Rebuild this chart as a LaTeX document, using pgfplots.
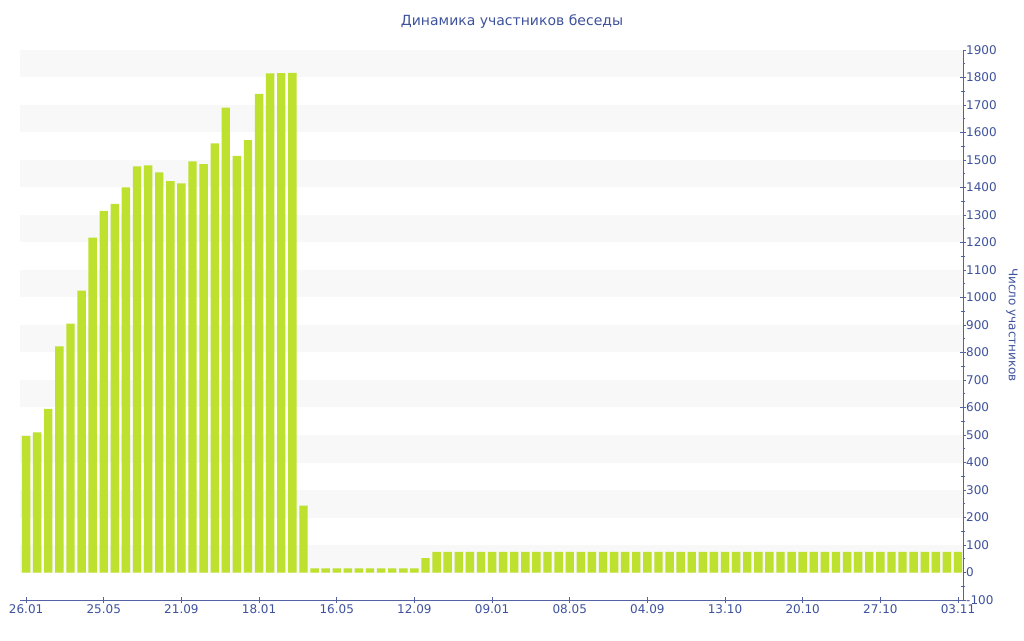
\documentclass[border=0pt]{standalone}
\usepackage{pgfplots}
\pgfplotsset{compat=1.18}
\usepackage{fontspec}
\setmainfont{DejaVu Sans}
\definecolor{barlime}{RGB}{190,224,46}
\definecolor{txtblue}{RGB}{62,82,156}
\definecolor{axblue}{RGB}{82,98,162}
\definecolor{band}{RGB}{248,248,248}
\begin{document}
\begin{tikzpicture}[x=1pt,y=1pt]
\begin{axis}[scale only axis,
  width=943pt, height=550pt,
  xmin=-0.55, xmax=84.45, ymin=-100, ymax=1900,
  axis x line=bottom, axis y line=right,
  axis line style={axblue,-},
  xtick={0,7,...,84},
  xticklabels={26.01,25.05,21.09,18.01,16.05,12.09,09.01,08.05,04.09,13.10,20.10,27.10,03.11},
  ytick={-100,0,...,1900}, minor y tick num=1,
  tick style={axblue, line width=0.6pt}, tick align=center,
  major tick length=6pt, minor tick length=4pt,
  /pgf/number format/assume math mode=true,
  /pgf/number format/1000 sep={},
  ticklabel style={font=\fontsize{12}{14}\selectfont, text=txtblue},
  yticklabel style={anchor=west, inner sep=0pt, xshift=0pt},
  xticklabel style={anchor=north, inner sep=1pt},
  clip=false,
]
\coordinate (O) at (axis cs:-0.55,-100);
\fill[band] (axis cs:-0.55,0) rectangle (axis cs:84.45,100);
\fill[band] (axis cs:-0.55,200) rectangle (axis cs:84.45,300);
\fill[band] (axis cs:-0.55,400) rectangle (axis cs:84.45,500);
\fill[band] (axis cs:-0.55,600) rectangle (axis cs:84.45,700);
\fill[band] (axis cs:-0.55,800) rectangle (axis cs:84.45,900);
\fill[band] (axis cs:-0.55,1000) rectangle (axis cs:84.45,1100);
\fill[band] (axis cs:-0.55,1200) rectangle (axis cs:84.45,1300);
\fill[band] (axis cs:-0.55,1400) rectangle (axis cs:84.45,1500);
\fill[band] (axis cs:-0.55,1600) rectangle (axis cs:84.45,1700);
\fill[band] (axis cs:-0.55,1800) rectangle (axis cs:84.45,1900);
\addplot[ybar, bar width=8.4pt, fill=barlime, draw=none] table[x=i, y=v] {
i v
0 497
1 510
2 595
3 822
4 905
5 1025
6 1218
7 1315
8 1340
9 1400
10 1477
11 1480
12 1455
13 1423
14 1415
15 1495
16 1485
17 1560
18 1690
19 1515
20 1572
21 1740
22 1815
23 1816
24 1817
25 243
26 15
27 15
28 15
29 15
30 15
31 15
32 15
33 15
34 15
35 15
36 52
37 75
38 75
39 75
40 75
41 75
42 75
43 75
44 75
45 75
46 75
47 75
48 75
49 75
50 75
51 75
52 75
53 75
54 75
55 75
56 75
57 75
58 75
59 75
60 75
61 75
62 75
63 75
64 75
65 75
66 75
67 75
68 75
69 75
70 75
71 75
72 75
73 75
74 75
75 75
76 75
77 75
78 75
79 75
80 75
81 75
82 75
83 75
84 75
};
\end{axis}
\node[text=txtblue, font=\fontsize{14}{16}\selectfont] at ([shift={(492,578)}]O) {Динамика участников беседы};
\node[text=txtblue, font=\fontsize{12}{14}\selectfont, rotate=-90] at ([shift={(992,275)}]O) {Число участников};
\path[use as bounding box] ([shift={(-20,-40)}]O) rectangle ([shift={(1004,600)}]O);
\end{tikzpicture}
\end{document}
